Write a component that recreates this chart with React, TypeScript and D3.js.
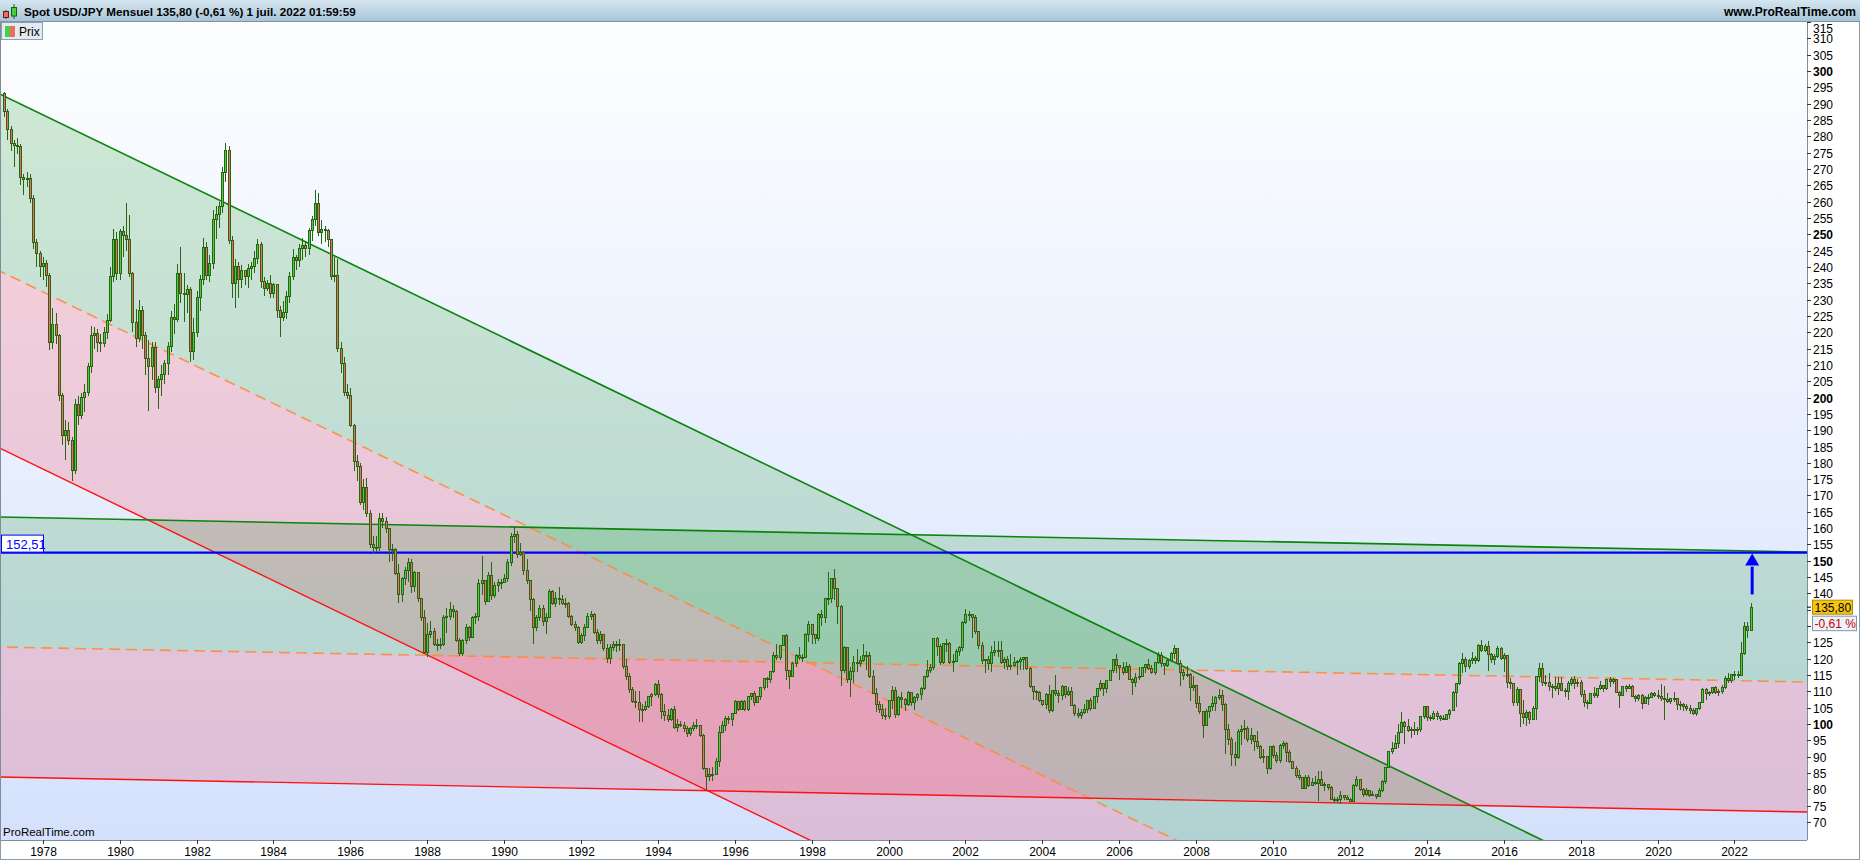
import React from "react";
import * as d3 from "d3";

// USD/JPY, monthly candles from Jan 1977 to Jun 2022
const firstYear = 1977;
const firstOpen = 293.0;

const closeByYear: number[][] = [
  [287.6, 282.2, 277.7, 277.2, 277.0, 267.4, 266.7, 267.0, 261.0, 247.6, 244.0, 240.0], // 1977
  [241.0, 237.4, 217.0, 222.5, 219.0, 200.5, 188.3, 190.0, 186.7, 177.8, 197.8, 194.5],
  [200.0, 201.5, 209.5, 219.0, 219.5, 217.0, 216.5, 220.0, 223.5, 237.0, 248.3, 238.0],
  [250.8, 249.5, 248.5, 238.0, 223.0, 218.0, 226.5, 219.0, 212.0, 209.5, 215.3, 203.0], // 1980
  [205.5, 207.0, 210.5, 215.5, 224.5, 224.0, 238.0, 232.0, 231.5, 233.0, 214.0, 220.0],
  [230.5, 236.0, 246.0, 237.5, 241.0, 254.5, 256.0, 258.5, 269.0, 275.5, 248.0, 235.0],
  [240.0, 236.0, 239.0, 237.0, 239.5, 240.0, 242.5, 247.0, 235.5, 233.5, 235.0, 232.0],
  [234.5, 226.5, 224.5, 226.0, 231.0, 237.0, 243.0, 242.0, 245.5, 246.5, 245.5, 251.0],
  [254.5, 259.5, 250.5, 251.5, 251.0, 248.5, 237.0, 237.5, 215.0, 210.5, 201.5, 200.5], // 1985
  [191.5, 180.5, 179.0, 168.0, 172.5, 164.5, 155.0, 154.0, 154.0, 163.0, 162.0, 160.0],
  [153.5, 153.5, 146.0, 139.8, 144.5, 147.0, 149.5, 142.0, 146.5, 138.5, 132.5, 122.0],
  [127.5, 128.5, 124.5, 124.5, 124.5, 132.5, 133.0, 135.0, 134.5, 125.5, 121.5, 125.5],
  [129.5, 126.5, 132.5, 133.0, 143.0, 144.0, 137.5, 145.5, 139.5, 142.5, 143.5, 143.5],
  [144.5, 149.5, 157.5, 158.0, 152.0, 152.5, 147.0, 144.0, 138.0, 129.5, 132.5, 135.5], // 1990
  [131.5, 132.5, 140.5, 137.0, 138.5, 138.0, 137.0, 137.0, 133.0, 130.5, 129.5, 125.0],
  [127.0, 129.5, 133.0, 133.5, 128.0, 125.5, 127.5, 123.0, 120.0, 123.5, 124.5, 124.5],
  [124.5, 117.5, 114.5, 110.5, 107.0, 106.5, 104.5, 104.5, 105.5, 108.5, 109.0, 112.0],
  [109.0, 104.0, 102.7, 101.5, 104.5, 99.0, 100.0, 99.5, 98.5, 97.0, 98.7, 99.7],
  [99.5, 96.5, 86.5, 84.0, 84.5, 84.5, 88.5, 97.5, 99.5, 101.8, 101.5, 103.3], // 1995
  [107.0, 104.5, 107.0, 104.5, 108.5, 109.5, 106.5, 108.5, 111.3, 114.0, 113.5, 116.0],
  [121.0, 120.5, 124.0, 127.0, 116.5, 114.5, 118.5, 121.0, 120.5, 120.5, 127.5, 130.5],
  [127.3, 126.3, 133.5, 132.5, 138.5, 138.5, 144.5, 141.5, 136.0, 116.5, 123.5, 113.5],
  [116.0, 119.0, 118.5, 119.5, 121.0, 121.0, 114.5, 109.5, 106.0, 104.5, 102.5, 102.2],
  [107.2, 110.2, 102.8, 108.2, 107.6, 106.0, 109.7, 106.6, 108.0, 109.0, 111.0, 114.5], // 2000
  [116.5, 117.3, 126.3, 123.7, 118.9, 124.7, 124.6, 118.9, 119.3, 122.3, 123.4, 131.0],
  [133.5, 133.5, 132.7, 128.5, 124.0, 119.5, 119.8, 118.5, 121.9, 122.4, 122.6, 118.8],
  [119.9, 117.7, 118.0, 118.8, 119.2, 119.9, 120.5, 116.9, 111.5, 110.0, 109.6, 107.2],
  [105.9, 109.1, 104.2, 110.4, 109.5, 108.8, 111.5, 109.2, 110.1, 105.8, 103.1, 102.6],
  [103.5, 104.6, 107.2, 104.8, 108.3, 110.9, 112.4, 111.0, 113.4, 116.5, 119.8, 117.9], // 2005
  [117.2, 115.8, 117.7, 113.8, 112.6, 114.4, 114.6, 117.3, 118.1, 116.9, 115.8, 119.0],
  [121.0, 118.5, 117.8, 119.5, 121.7, 123.2, 118.7, 115.8, 115.0, 115.3, 111.1, 111.7],
  [106.4, 104.0, 99.7, 104.0, 105.5, 106.2, 108.1, 108.8, 106.0, 98.4, 95.4, 90.6],
  [89.9, 97.6, 98.3, 98.5, 95.3, 96.4, 94.7, 93.0, 89.7, 90.2, 86.3, 93.0],
  [90.3, 88.9, 93.5, 94.0, 91.3, 88.4, 86.4, 84.2, 83.5, 80.4, 83.7, 81.1], // 2010
  [82.0, 81.8, 83.1, 81.2, 81.5, 80.5, 76.8, 76.6, 77.0, 78.2, 77.6, 76.9],
  [76.3, 81.2, 82.9, 80.0, 78.3, 79.8, 78.1, 78.4, 77.9, 79.8, 82.5, 86.8],
  [91.7, 92.6, 94.2, 97.4, 100.5, 99.2, 97.9, 98.2, 98.3, 98.4, 102.4, 105.3],
  [102.0, 101.8, 103.2, 102.2, 101.8, 101.3, 102.8, 104.1, 109.7, 112.3, 118.6, 119.8],
  [117.5, 119.6, 120.1, 119.4, 124.1, 122.5, 123.9, 121.2, 119.9, 120.6, 123.1, 120.2], // 2015
  [121.0, 112.7, 112.5, 106.5, 110.7, 103.2, 102.1, 103.4, 101.3, 104.8, 114.5, 116.9],
  [112.8, 112.8, 111.4, 111.5, 110.8, 112.4, 110.3, 110.1, 112.5, 113.6, 112.5, 112.7],
  [109.2, 106.7, 106.3, 109.3, 108.8, 110.8, 111.9, 111.0, 113.7, 112.9, 113.5, 109.7],
  [108.9, 111.4, 110.9, 111.4, 108.3, 107.8, 108.8, 106.3, 108.1, 108.0, 109.5, 108.6],
  [108.4, 107.9, 107.5, 106.9, 107.8, 107.9, 105.9, 105.9, 105.5, 104.7, 104.3, 103.2], // 2020
  [104.7, 106.6, 110.7, 109.3, 109.6, 111.1, 109.7, 109.9, 111.3, 114.0, 113.2, 115.1],
  [115.2, 115.0, 121.7, 129.8, 128.7, 135.8],
];

const highByYear: number[][] = [
  [293.5, 288.5, 283.0, 279.0, 279.5, 277.5, 268.5, 269.0, 268.5, 262.0, 248.5, 245.0],
  [243.0, 242.0, 238.0, 227.5, 226.0, 219.5, 201.5, 193.0, 192.5, 188.0, 199.5, 200.5],
  [201.5, 204.0, 210.5, 222.0, 221.5, 221.0, 219.5, 221.5, 225.5, 240.0, 251.5, 250.8],
  [251.5, 252.5, 259.5, 256.0, 238.5, 227.0, 230.0, 228.0, 220.0, 217.5, 217.0, 217.0],
  [206.5, 210.0, 211.5, 217.0, 226.5, 228.5, 241.0, 246.0, 238.0, 234.5, 234.0, 224.5],
  [232.5, 237.5, 249.0, 247.5, 243.5, 257.5, 258.5, 260.0, 270.5, 277.9, 277.0, 249.5],
  [242.5, 241.5, 240.5, 239.0, 241.0, 241.5, 245.0, 248.5, 247.5, 237.0, 236.0, 237.5],
  [235.0, 234.0, 228.0, 229.5, 232.5, 238.5, 245.5, 243.5, 247.0, 249.0, 248.0, 251.8],
  [255.5, 263.5, 262.5, 254.5, 252.5, 251.5, 248.5, 243.0, 242.5, 217.0, 212.5, 204.0],
  [203.0, 192.0, 182.5, 180.0, 175.0, 175.5, 165.5, 157.5, 157.5, 164.5, 164.5, 163.5],
  [160.0, 155.0, 154.0, 149.0, 145.0, 148.0, 151.0, 150.5, 147.0, 146.5, 138.0, 135.0],
  [131.0, 131.5, 129.5, 126.0, 126.5, 133.5, 135.5, 137.5, 136.5, 135.0, 126.5, 126.0],
  [130.5, 130.0, 133.0, 134.0, 144.5, 151.5, 143.0, 146.5, 149.5, 143.5, 144.5, 144.5],
  [146.0, 150.5, 158.5, 160.3, 159.0, 155.5, 153.0, 150.5, 144.0, 138.5, 133.5, 136.5],
  [136.5, 134.0, 141.5, 141.0, 140.5, 142.0, 139.5, 138.5, 137.5, 133.5, 131.5, 130.0],
  [128.0, 130.5, 134.0, 134.6, 134.0, 129.0, 128.5, 127.5, 124.5, 124.5, 125.5, 125.5],
  [126.0, 124.5, 120.0, 115.5, 111.5, 110.0, 110.0, 106.0, 107.0, 108.7, 109.5, 112.5],
  [113.5, 109.5, 106.0, 104.5, 105.0, 105.5, 101.5, 101.0, 100.5, 99.5, 99.0, 100.5],
  [101.5, 99.5, 97.0, 86.5, 86.7, 87.0, 89.5, 99.5, 101.0, 102.5, 102.5, 103.5],
  [107.5, 107.0, 107.5, 107.5, 108.5, 109.5, 110.0, 108.5, 111.5, 114.0, 114.5, 116.2],
  [122.0, 124.5, 124.0, 127.0, 127.5, 116.5, 119.0, 121.5, 123.5, 121.5, 128.0, 131.6],
  [130.0, 127.5, 134.0, 135.0, 138.5, 146.5, 144.5, 147.6, 139.5, 136.5, 124.0, 123.5],
  [117.5, 121.0, 123.0, 121.0, 124.5, 122.5, 122.0, 116.5, 111.0, 107.0, 106.0, 105.0],
  [107.5, 111.8, 111.5, 108.5, 109.8, 108.0, 110.0, 109.8, 108.5, 109.5, 111.5, 114.8],
  [119.5, 118.5, 126.5, 126.8, 124.5, 124.7, 126.0, 125.0, 121.5, 123.0, 124.0, 131.5],
  [135.2, 134.5, 133.5, 133.5, 128.5, 125.0, 120.0, 121.0, 124.0, 125.5, 125.5, 125.5],
  [120.5, 121.0, 121.5, 120.5, 119.5, 120.5, 120.5, 120.5, 117.5, 111.5, 110.5, 110.0],
  [107.5, 109.5, 112.0, 110.5, 114.9, 110.5, 112.0, 111.5, 111.5, 111.5, 106.0, 105.0],
  [104.5, 106.0, 107.5, 108.0, 108.5, 111.0, 113.5, 112.0, 113.5, 116.6, 120.0, 121.4],
  [117.5, 119.0, 119.0, 118.5, 114.0, 115.5, 117.5, 117.5, 118.3, 119.9, 118.0, 119.0],
  [122.2, 122.0, 118.0, 120.0, 122.0, 124.1, 123.2, 119.5, 117.0, 117.9, 115.5, 114.7],
  [111.5, 108.5, 104.0, 104.5, 105.5, 108.5, 108.5, 110.7, 110.5, 106.5, 100.0, 96.0],
  [94.5, 98.5, 99.7, 101.4, 99.5, 98.9, 95.5, 97.8, 93.5, 92.3, 90.0, 93.0],
  [93.5, 91.5, 93.8, 94.7, 94.5, 92.0, 88.8, 87.2, 85.9, 83.5, 84.4, 84.5],
  [83.6, 84.0, 85.5, 85.5, 82.2, 81.5, 80.9, 77.8, 77.8, 79.5, 78.3, 78.3],
  [77.5, 81.7, 84.2, 82.0, 80.5, 80.5, 79.8, 79.6, 78.5, 80.4, 82.8, 86.6],
  [91.8, 94.5, 96.7, 99.9, 103.7, 101.0, 101.5, 99.2, 100.6, 99.0, 102.5, 105.4],
  [105.4, 102.8, 104.1, 104.1, 102.8, 102.8, 103.1, 104.5, 110.1, 112.5, 118.9, 121.8],
  [120.5, 120.0, 122.0, 120.8, 124.5, 125.9, 124.6, 125.3, 121.8, 121.5, 123.8, 123.7],
  [121.7, 121.0, 114.0, 112.0, 111.5, 110.0, 107.5, 104.3, 104.0, 105.5, 114.8, 118.7],
  [118.6, 114.9, 115.5, 112.2, 114.4, 114.5, 114.5, 111.0, 113.3, 114.4, 114.7, 113.8],
  [113.4, 110.5, 107.3, 109.5, 111.4, 111.0, 113.2, 112.0, 113.8, 114.5, 114.2, 113.7],
  [110.0, 111.5, 112.1, 112.4, 112.0, 108.8, 109.3, 109.3, 108.5, 109.3, 109.7, 109.7],
  [110.3, 112.2, 111.7, 109.4, 108.1, 109.9, 107.8, 107.1, 106.6, 106.1, 105.7, 104.8],
  [104.9, 106.7, 110.9, 110.9, 110.2, 111.1, 111.7, 110.8, 112.1, 114.7, 115.5, 115.2],
  [116.3, 116.3, 125.1, 131.3, 131.3, 137.0],
];

const lowByYear: number[][] = [
  [286.0, 279.0, 275.5, 270.7, 274.5, 265.0, 262.0, 264.5, 259.5, 245.5, 240.0, 237.0],
  [236.0, 234.0, 214.5, 215.0, 216.5, 199.0, 185.5, 181.0, 185.5, 174.3, 176.5, 191.5],
  [193.5, 195.5, 200.5, 207.5, 215.0, 214.0, 214.0, 215.5, 218.0, 223.0, 235.5, 236.0],
  [236.0, 243.0, 245.0, 237.0, 220.0, 215.5, 217.0, 215.0, 207.0, 196.0, 205.5, 201.5],
  [196.5, 200.5, 204.0, 207.0, 214.0, 219.5, 223.0, 229.0, 223.0, 226.0, 211.0, 211.5],
  [218.5, 226.5, 234.5, 236.0, 235.5, 239.5, 248.5, 252.0, 256.5, 266.0, 247.0, 230.5],
  [227.5, 230.5, 233.5, 234.5, 233.5, 236.0, 238.0, 241.0, 233.5, 231.0, 232.5, 230.5],
  [230.5, 224.5, 218.6, 223.5, 224.0, 229.0, 236.0, 239.0, 240.0, 242.0, 243.0, 243.5],
  [248.0, 252.5, 249.5, 247.0, 247.5, 246.0, 236.0, 235.5, 214.0, 207.5, 200.5, 199.5],
  [191.0, 177.5, 174.5, 167.0, 165.5, 163.5, 154.0, 152.5, 152.7, 153.0, 160.0, 158.5],
  [149.5, 150.0, 145.5, 137.0, 137.5, 142.5, 143.5, 140.0, 140.5, 137.5, 131.5, 121.5],
  [120.5, 126.5, 124.0, 122.5, 123.0, 124.0, 128.0, 132.0, 132.5, 125.0, 121.0, 121.0],
  [124.5, 125.5, 126.5, 130.5, 131.5, 139.5, 136.5, 137.5, 138.0, 138.5, 140.5, 141.5],
  [143.5, 143.5, 148.5, 155.5, 151.0, 151.5, 145.5, 143.0, 134.5, 124.5, 128.5, 131.5],
  [130.0, 127.5, 132.5, 136.5, 136.0, 136.5, 136.5, 135.5, 132.5, 130.0, 128.5, 124.5],
  [124.5, 125.5, 129.5, 132.0, 127.5, 124.5, 124.5, 122.5, 118.8, 118.5, 122.5, 122.0],
  [122.5, 117.0, 113.5, 109.5, 106.5, 105.0, 100.5, 100.5, 104.0, 105.0, 105.5, 108.5],
  [108.0, 101.5, 101.0, 100.5, 101.0, 98.5, 97.5, 99.0, 97.5, 96.0, 96.5, 98.0],
  [98.5, 96.0, 86.0, 79.8, 82.5, 82.5, 84.5, 87.0, 97.5, 98.0, 100.0, 99.5],
  [103.5, 104.0, 104.5, 104.0, 104.0, 107.5, 105.5, 106.5, 107.5, 110.5, 111.0, 112.5],
  [115.5, 119.5, 119.5, 124.0, 113.5, 110.6, 114.5, 117.5, 119.5, 119.0, 120.5, 125.0],
  [124.5, 124.5, 125.5, 130.0, 131.0, 136.5, 137.0, 138.0, 130.5, 111.6, 115.5, 112.5],
  [108.3, 112.5, 116.0, 117.5, 119.0, 116.5, 114.0, 109.5, 103.7, 103.5, 101.5, 101.3],
  [101.5, 104.5, 102.0, 102.5, 105.0, 104.0, 105.5, 105.5, 104.3, 107.0, 107.5, 110.5],
  [114.0, 115.5, 116.5, 121.0, 118.0, 118.5, 122.0, 118.5, 115.8, 119.5, 121.0, 122.5],
  [130.5, 131.5, 126.5, 127.5, 123.0, 118.5, 115.5, 116.5, 116.0, 121.0, 120.5, 118.5],
  [117.0, 116.5, 116.5, 117.5, 115.0, 116.5, 116.5, 116.5, 111.0, 107.5, 107.5, 106.8],
  [105.5, 104.7, 103.4, 103.8, 108.5, 106.5, 107.5, 108.0, 108.5, 105.5, 102.5, 101.8],
  [101.7, 103.0, 103.5, 104.0, 104.5, 106.6, 110.0, 108.5, 109.5, 113.5, 115.5, 115.5],
  [113.5, 115.0, 115.5, 113.5, 108.9, 111.5, 113.5, 114.5, 115.5, 116.5, 115.2, 115.0],
  [118.5, 117.5, 115.1, 117.5, 119.0, 120.0, 118.5, 111.6, 113.5, 114.5, 107.2, 110.2],
  [104.9, 103.0, 95.7, 99.5, 102.0, 104.0, 104.0, 107.5, 104.0, 90.9, 93.5, 87.1],
  [87.1, 89.3, 93.5, 95.5, 94.5, 94.0, 91.7, 92.5, 89.2, 88.0, 84.8, 86.0],
  [89.5, 88.1, 88.2, 92.5, 88.5, 88.2, 86.2, 83.6, 82.9, 80.3, 80.2, 80.8],
  [81.3, 81.3, 76.3, 81.0, 79.6, 79.7, 76.7, 75.9, 75.9, 75.5, 76.6, 76.6],
  [76.0, 76.1, 80.6, 79.5, 77.7, 78.0, 77.6, 77.9, 77.1, 77.9, 79.1, 81.7],
  [86.5, 90.8, 92.6, 92.6, 97.3, 93.8, 97.5, 95.8, 96.6, 96.6, 97.6, 101.6],
  [100.8, 101.0, 101.2, 101.4, 100.8, 101.1, 101.1, 101.5, 104.0, 105.2, 112.0, 115.6],
  [115.8, 116.9, 118.3, 118.5, 119.0, 122.0, 122.0, 116.2, 118.7, 118.1, 120.2, 119.5],
  [115.9, 111.0, 110.7, 105.5, 105.5, 99.0, 100.0, 99.5, 100.1, 101.2, 101.2, 112.9],
  [111.6, 111.7, 110.1, 108.1, 110.2, 108.8, 110.0, 108.3, 107.3, 111.6, 110.8, 111.4],
  [108.3, 105.3, 104.6, 106.2, 108.1, 108.1, 110.3, 109.8, 110.4, 111.4, 112.3, 109.5],
  [104.9, 108.5, 109.7, 110.8, 108.3, 106.8, 107.2, 104.5, 106.0, 105.8, 107.9, 108.4],
  [107.7, 107.0, 101.2, 106.4, 106.0, 106.7, 104.2, 104.2, 104.0, 104.0, 103.2, 102.9],
  [102.6, 104.4, 106.4, 107.5, 108.6, 109.2, 109.1, 108.7, 109.1, 110.8, 112.5, 112.6],
  [113.5, 114.2, 114.6, 121.3, 126.4, 128.7],
];

// trend channels drawn on the chart: two points on the lower line + channel width
const diagLower = [[1982.48, 152.6], [1995.27, 79.75]];
const diagWidth = 108.5;
const flatLower = [[1995.27, 79.6], [2018.5, 74.3]];
const flatWidth = 79.6;

const targetLevel = 152.51;
const arrowFrom = { t: 2022.46, v: 139.7 };
const lastPrice = 135.8;
const lastChange = -0.61;

const yTicks = d3.range(70, 316, 5);
const xTicks = d3.range(1978, 2023, 2);

const closes = closeByYear.flat();
const highs = highByYear.flat();
const lows = lowByYear.flat();
const candles = closes.map((c, i) => ({
  t: firstYear + i / 12,
  o: i === 0 ? firstOpen : closes[i - 1],
  h: highs[i],
  l: lows[i],
  c,
}));

const W = 1860;
const H = 860;
const plot = { left: 0, top: 22, right: 1807, bottom: 840 };
const font = "'Liberation Sans', Arial, Helvetica, sans-serif";
const fr = d3.formatLocale({ decimal: ",", thousands: " ", grouping: [3], currency: ["", ""], minus: "-" });
const fmt2 = fr.format(".2f");

const x = d3.scaleLinear().domain([1976.889, 2023.886]).range([plot.left, plot.right]);
const y = d3.scaleLinear().domain([64.5, 315]).range([plot.bottom, plot.top]);

const lineAt = (pts: number[][], t: number) => {
  const [[t1, v1], [t2, v2]] = pts;
  return v1 + ((v2 - v1) * (t - t1)) / (t2 - t1);
};
const span = [1970, 2030];

const band = (pts: number[][], o1: number, o2: number) =>
  d3
    .area<number>()
    .x((t) => x(t))
    .y0((t) => y(lineAt(pts, t) + o1))
    .y1((t) => y(lineAt(pts, t) + o2))(span);

const trend = (pts: number[][], o: number) =>
  d3
    .line<number>()
    .x((t) => x(t))
    .y((t) => y(lineAt(pts, t) + o))(span);

const GREEN_FILL = "rgba(0,138,6,0.17)";
const PINK_FILL = "rgba(255,8,30,0.16)";

const Channel = ({ pts, w }: { pts: number[][]; w: number }) => (
  <g>
    <path d={band(pts, w / 2, w)!} fill={GREEN_FILL} />
    <path d={band(pts, 0, w / 2)!} fill={PINK_FILL} />
  </g>
);

const ChannelLines = ({ pts, w }: { pts: number[][]; w: number }) => (
  <g fill="none">
    <path d={trend(pts, w)!} stroke="#0a840a" strokeWidth={1.6} />
    <path d={trend(pts, w / 2)!} stroke="#ff8a3d" strokeWidth={1.6} strokeDasharray="11,6" strokeOpacity={0.9} />
    <path d={trend(pts, 0)!} stroke="#ff1010" strokeWidth={1.4} />
  </g>
);

export default function App() {
  const bw = 2.6;
  const arrowX = x(arrowFrom.t);
  const priceY = y(lastPrice);
  // axis labels hidden behind the last-price boxes, as in the original
  const hidden = (v: number) => y(v) > priceY - 9 && y(v) < priceY + 26;
  return (
    <svg
      width={W}
      height={H}
      style={{ position: "absolute", left: 0, top: 0, display: "block" }}
      fontFamily={font}
    >
      <defs>
        <linearGradient id="bg" x1="0" y1="0" x2="0" y2="1">
          <stop offset="0" stopColor="#fdfeff" />
          <stop offset="1" stopColor="#d5e1fc" />
        </linearGradient>
        <linearGradient id="hdr" x1="0" y1="0" x2="0" y2="1">
          <stop offset="0" stopColor="#d6e6f0" />
          <stop offset="1" stopColor="#a5c3d6" />
        </linearGradient>
        <clipPath id="plotClip">
          <rect x={plot.left} y={plot.top} width={plot.right - plot.left} height={plot.bottom - plot.top} />
        </clipPath>
      </defs>

      <rect x={0} y={0} width={W} height={H} fill="#ffffff" />
      <rect x={plot.left} y={plot.top} width={plot.right - plot.left} height={plot.bottom - plot.top} fill="url(#bg)" />

      <g clipPath="url(#plotClip)">
        <Channel pts={diagLower} w={diagWidth} />
        <Channel pts={flatLower} w={flatWidth} />
        <ChannelLines pts={diagLower} w={diagWidth} />
        <ChannelLines pts={flatLower} w={flatWidth} />

        <line x1={plot.left} x2={plot.right} y1={y(targetLevel)} y2={y(targetLevel)} stroke="#0000ff" strokeWidth={2.4} />

        <g shapeRendering="crispEdges">
          {candles.map((d, i) => {
            const cx = Math.round(x(d.t)) + 0.5;
            const top = y(Math.max(d.o, d.c));
            const bot = y(Math.min(d.o, d.c));
            const hi = y(Math.max(d.h, d.o, d.c));
            const lo = y(Math.min(d.l, d.o, d.c));
            return (
              <g key={i}>
                <line x1={cx} x2={cx} y1={hi} y2={lo} stroke="#2b6412" strokeWidth={1} />
                <rect
                  x={cx - bw / 2}
                  y={top}
                  width={bw}
                  height={Math.max(1, bot - top)}
                  fill={d.c >= d.o ? "#45cf3f" : "#ec6b62"}
                  stroke="#2b6412"
                  strokeWidth={1}
                />
              </g>
            );
          })}
        </g>

        <line
          x1={arrowX}
          x2={arrowX}
          y1={y(arrowFrom.v)}
          y2={y(targetLevel) + 14}
          stroke="#0000ff"
          strokeWidth={3}
        />
        <path
          d={`M${arrowX},${y(targetLevel) + 1} L${arrowX - 7},${y(targetLevel) + 13} L${arrowX + 7},${y(targetLevel) + 13} Z`}
          fill="#0000ff"
        />
      </g>

      {/* level label on the left */}
      <rect x={1.5} y={y(targetLevel) - 17.5} width={42} height={17} fill="#ffffff" stroke="#0000ff" strokeWidth={1} />
      <text x={6} y={y(targetLevel) - 4} fontSize={13} fill="#0000ff">
        {fmt2(targetLevel)}
      </text>

      {/* watermark */}
      <text x={3} y={plot.bottom - 4} fontSize={11.5} fill="#000">
        ProRealTime.com
      </text>

      {/* axes */}
      <line x1={plot.right + 0.5} x2={plot.right + 0.5} y1={plot.top} y2={plot.bottom} stroke="#7d8d9c" />
      <line x1={0} x2={plot.right} y1={plot.bottom + 0.5} y2={plot.bottom + 0.5} stroke="#7d8d9c" />
      <rect x={0.5} y={0.5} width={W - 1} height={H - 1} fill="none" stroke="#8a9aa8" />
      <line x1={0.5} x2={0.5} y1={plot.top} y2={plot.bottom} stroke="#7d8d9c" />

      <g fontSize={12} fill="#000">
        {yTicks.map((v) => {
          const yy = Math.round(y(v)) + 0.5;
          return (
            <g key={v}>
              <line x1={plot.right} x2={plot.right + 4} y1={yy} y2={yy} stroke="#333" />
              {!hidden(v) && (
                <text
                  x={plot.right + 6}
                  y={Math.max(yy, plot.top + 7)}
                  dy="0.35em"
                  fontWeight={v % 50 === 0 ? "bold" : "normal"}
                >
                  {v}
                </text>
              )}
            </g>
          );
        })}
        {xTicks.map((t) => {
          const xx = Math.round(x(t)) + 0.5;
          return (
            <g key={t}>
              <line x1={xx} x2={xx} y1={plot.bottom} y2={plot.bottom + 4} stroke="#333" />
              <text x={xx} y={plot.bottom + 16} textAnchor="middle">
                {t}
              </text>
            </g>
          );
        })}
      </g>

      {/* last price labels */}
      <line x1={plot.right} x2={plot.right + 4} y1={priceY} y2={priceY} stroke="#000" />
      <rect x={1812.5} y={priceY - 7} width={40} height={14} fill="#f6c514" stroke="#b08a00" />
      <text x={1814.5} y={priceY + 4.5} fontSize={12} fill="#000">
        {fmt2(lastPrice)}
      </text>
      <rect x={1812.5} y={priceY + 9} width={44} height={14.5} fill="#eef2fa" stroke="#7f95ab" />
      <text x={1814.5} y={priceY + 20.5} fontSize={12} fill="#c00000">
        {fmt2(lastChange)} %
      </text>

      {/* header */}
      <rect x={0} y={0} width={W} height={plot.top} fill="url(#hdr)" />
      <line x1={0} x2={W} y1={plot.top - 0.5} y2={plot.top - 0.5} stroke="#7b93a5" />
      <line x1={6} x2={6} y1={10} y2={19} stroke="#6b2020" />
      <rect x={3.5} y={11.5} width={5} height={6} fill="#ec6b62" stroke="#6b2020" />
      <line x1={14} x2={14} y1={4} y2={19} stroke="#1d5e12" />
      <rect x={11.5} y={7.5} width={5} height={8.5} fill="#45cf3f" stroke="#1d5e12" />
      <text x={24} y={16} fontSize={11.7} fontWeight="bold" fill="#000">
        {`Spot USD/JPY Mensuel ${fmt2(lastPrice)} (${fmt2(lastChange)} %) 1 juil. 2022 01:59:59`}
      </text>
      <text x={W - 4} y={16} fontSize={12} fontWeight="bold" fill="#000" textAnchor="end">
        www.ProRealTime.com
      </text>

      {/* legend */}
      <rect x={1.5} y={plot.top + 0.5} width={41} height={17} fill="#e3eaf1" stroke="#8ea0b0" />
      <rect x={5} y={plot.top + 4} width={5} height={11} fill="#46cf46" />
      <rect x={10} y={plot.top + 4} width={5} height={11} fill="#ec6b62" />
      <text x={19} y={plot.top + 14} fontSize={12} fill="#000">
        Prix
      </text>
    </svg>
  );
}
